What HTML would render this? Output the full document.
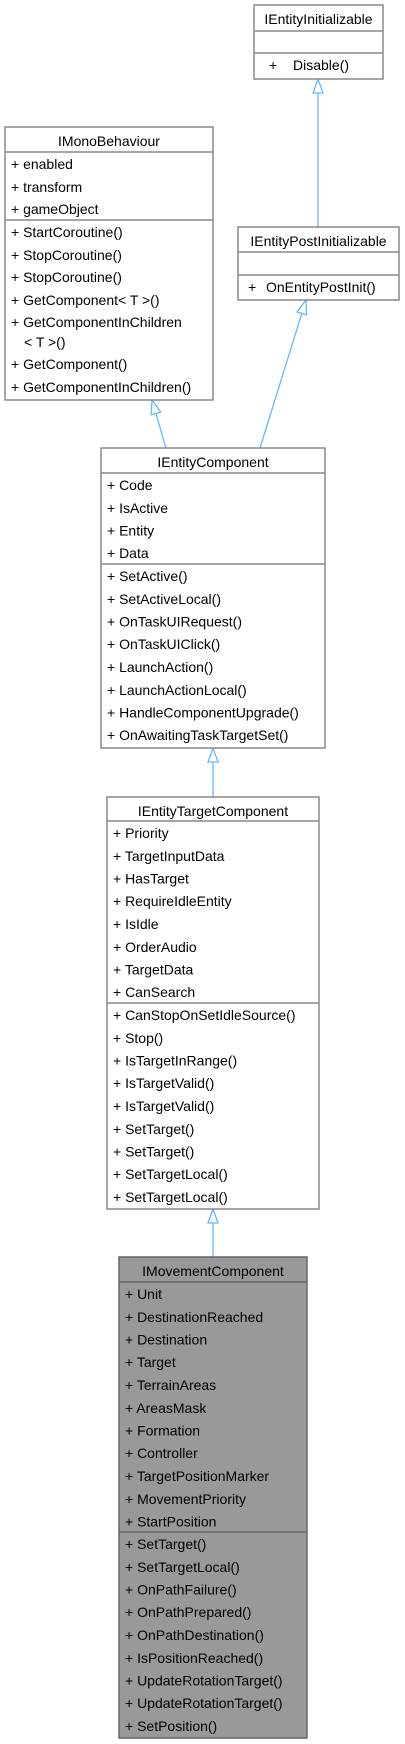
<!DOCTYPE html>
<html><head><meta charset="utf-8"><style>
html,body{margin:0;padding:0;background:#fff;}
svg{display:block;}
text{font-family:"Liberation Sans",Arial,sans-serif;font-size:14px;fill:#000;}
.b{fill:#fff;stroke:#888;stroke-width:1.5;}
.g{fill:#999;stroke:#666;stroke-width:1.5;}
.s{stroke:#888;stroke-width:1.5;}
.sg{stroke:#666;stroke-width:1.5;}
.e{stroke:#63b8ff;stroke-width:1.3;fill:none;}
.a{stroke:#63b8ff;stroke-width:1.3;fill:#fff;}
</style></head><body>
<svg width="405" height="1744" viewBox="0 0 405 1744" xmlns="http://www.w3.org/2000/svg">
<!-- edges -->
<line class="e" x1="318" y1="93" x2="318" y2="227"/>
<polygon class="a" points="318,79 313,93 323,93"/>
<line class="e" x1="301.8" y1="313.4" x2="260" y2="448"/>
<polygon class="a" points="306,300 306.6,314.9 297,311.9"/>
<line class="e" x1="155.9" y1="413.4" x2="166" y2="448"/>
<polygon class="a" points="152,400 160.7,412 151.1,414.8"/>
<line class="e" x1="213" y1="762" x2="213" y2="797"/>
<polygon class="a" points="213,748 208,762 218,762"/>
<line class="e" x1="213" y1="1223" x2="213" y2="1257"/>
<polygon class="a" points="213,1209 208,1223 218,1223"/>

<!-- IEntityInitializable -->
<rect class="b" x="254" y="5" width="129" height="74"/>
<line class="s" x1="254" y1="31" x2="383" y2="31"/>
<line class="s" x1="254" y1="53" x2="383" y2="53"/>
<text x="318.5" y="24" text-anchor="middle">IEntityInitializable</text>
<text x="269" y="70">+</text><text x="293" y="70">Disable()</text>

<!-- IEntityPostInitializable -->
<rect class="b" x="238" y="227" width="161" height="73"/>
<line class="s" x1="238" y1="252" x2="399" y2="252"/>
<line class="s" x1="238" y1="275" x2="399" y2="275"/>
<text x="318.5" y="246" text-anchor="middle">IEntityPostInitializable</text>
<text x="248" y="292">+</text><text x="266" y="292">OnEntityPostInit()</text>

<!-- IMonoBehaviour -->
<rect class="b" x="5" y="127" width="208" height="273"/>
<line class="s" x1="5" y1="152" x2="213" y2="152"/>
<line class="s" x1="5" y1="220" x2="213" y2="220"/>
<text x="109" y="146" text-anchor="middle">IMonoBehaviour</text>
<text x="11" y="169">+ enabled</text>
<text x="11" y="192">+ transform</text>
<text x="11" y="214">+ gameObject</text>
<text x="11" y="237">+ StartCoroutine()</text>
<text x="11" y="260">+ StopCoroutine()</text>
<text x="11" y="282">+ StopCoroutine()</text>
<text x="11" y="305">+ GetComponent&lt; T &gt;()</text>
<text x="11" y="327">+ GetComponentInChildren</text>
<text x="24" y="347">&lt; T &gt;()</text>
<text x="11" y="369">+ GetComponent()</text>
<text x="11" y="392">+ GetComponentInChildren()</text>

<!-- IEntityComponent -->
<rect class="b" x="101" y="448" width="224" height="300"/>
<line class="s" x1="101" y1="473" x2="325" y2="473"/>
<line class="s" x1="101" y1="564" x2="325" y2="564"/>
<text x="213" y="467" text-anchor="middle">IEntityComponent</text>
<text x="107" y="490">+ Code</text>
<text x="107" y="513">+ IsActive</text>
<text x="107" y="535.5">+ Entity</text>
<text x="107" y="558">+ Data</text>
<text x="107" y="581">+ SetActive()</text>
<text x="107" y="604">+ SetActiveLocal()</text>
<text x="107" y="626.5">+ OnTaskUIRequest()</text>
<text x="107" y="649">+ OnTaskUIClick()</text>
<text x="107" y="672">+ LaunchAction()</text>
<text x="107" y="695">+ LaunchActionLocal()</text>
<text x="107" y="717.5">+ HandleComponentUpgrade()</text>
<text x="107" y="740">+ OnAwaitingTaskTargetSet()</text>

<!-- IEntityTargetComponent -->
<rect class="b" x="107" y="797" width="212" height="412"/>
<line class="s" x1="107" y1="821" x2="319" y2="821"/>
<line class="s" x1="107" y1="1003" x2="319" y2="1003"/>
<text x="213" y="816" text-anchor="middle">IEntityTargetComponent</text>
<text x="113" y="838">+ Priority</text>
<text x="113" y="861">+ TargetInputData</text>
<text x="113" y="883.5">+ HasTarget</text>
<text x="113" y="906">+ RequireIdleEntity</text>
<text x="113" y="929">+ IsIdle</text>
<text x="113" y="952">+ OrderAudio</text>
<text x="113" y="974.5">+ TargetData</text>
<text x="113" y="997">+ CanSearch</text>
<text x="113" y="1020">+ CanStopOnSetIdleSource()</text>
<text x="113" y="1043">+ Stop()</text>
<text x="113" y="1065.5">+ IsTargetInRange()</text>
<text x="113" y="1088">+ IsTargetValid()</text>
<text x="113" y="1111">+ IsTargetValid()</text>
<text x="113" y="1134">+ SetTarget()</text>
<text x="113" y="1156.5">+ SetTarget()</text>
<text x="113" y="1179">+ SetTargetLocal()</text>
<text x="113" y="1202">+ SetTargetLocal()</text>

<!-- IMovementComponent -->
<rect class="g" x="119" y="1257" width="188" height="481"/>
<line class="sg" x1="119" y1="1282" x2="307" y2="1282"/>
<line class="sg" x1="119" y1="1532" x2="307" y2="1532"/>
<text x="213" y="1276" text-anchor="middle">IMovementComponent</text>
<text x="125" y="1299">+ Unit</text>
<text x="125" y="1322">+ DestinationReached</text>
<text x="125" y="1344.5">+ Destination</text>
<text x="125" y="1367">+ Target</text>
<text x="125" y="1390">+ TerrainAreas</text>
<text x="125" y="1413">+ AreasMask</text>
<text x="125" y="1435.5">+ Formation</text>
<text x="125" y="1458">+ Controller</text>
<text x="125" y="1481">+ TargetPositionMarker</text>
<text x="125" y="1504">+ MovementPriority</text>
<text x="125" y="1526.5">+ StartPosition</text>
<text x="125" y="1549">+ SetTarget()</text>
<text x="125" y="1572">+ SetTargetLocal()</text>
<text x="125" y="1594.5">+ OnPathFailure()</text>
<text x="125" y="1617">+ OnPathPrepared()</text>
<text x="125" y="1640">+ OnPathDestination()</text>
<text x="125" y="1663">+ IsPositionReached()</text>
<text x="125" y="1685.5">+ UpdateRotationTarget()</text>
<text x="125" y="1708">+ UpdateRotationTarget()</text>
<text x="125" y="1731">+ SetPosition()</text>
</svg>
</body></html>
